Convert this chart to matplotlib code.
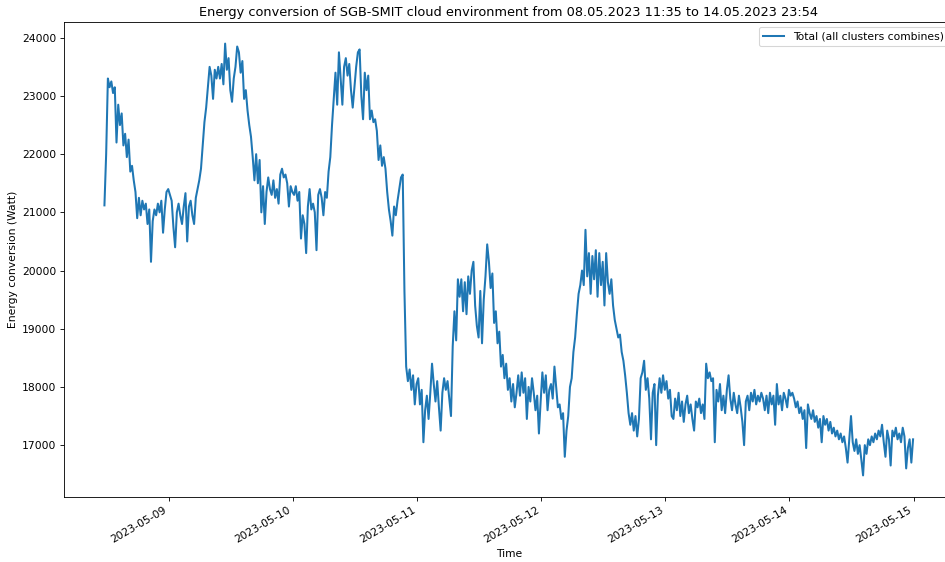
import numpy as np
import pandas as pd
import matplotlib
matplotlib.use("Agg")
from matplotlib import pyplot as plt

# total power draw (Watt), one reading every ~20 minutes
may08 = [21120, 22000, 23300, 23150, 23250, 23050, 23150, 22200, 22850, 22500,
         22700, 22150, 22350, 21950, 22250, 21700, 21800, 21550, 21350, 20900,
         21250, 20950, 21200, 21050, 21150, 20800, 21050, 20150, 20850, 21050,
         20950, 21150, 21000, 21200, 20650, 21050, 21350, 21400]
may09 = [21300, 21200, 20750, 20400, 21000, 21150, 20950, 20800, 21100, 21330,
         20500, 21100, 21200, 20950, 20800, 21250, 21400, 21550, 21750, 22150,
         22550, 22800, 23150, 23500, 23350, 22950, 23450, 23300, 23500, 23300,
         23550, 23200, 23900, 23450, 23650, 23100, 22900, 23300, 23500, 23850,
         23750, 23400, 23600, 22950, 23100, 22750, 22500, 22300, 21950, 21550,
         22000, 21500, 21900, 21000, 21450, 20800, 21350, 21600, 21400, 21300,
         21550, 21250, 21400, 21150, 21650, 21750, 21600, 21650, 21500, 21100,
         21450, 21350]
may10 = [21300, 21450, 21200, 21350, 20550, 20950, 20800, 20300, 21100, 21400,
         21050, 21150, 21000, 20350, 21300, 21400, 21250, 20950, 21350, 21250,
         21700, 21950, 22500, 22950, 23400, 22850, 23750, 23300, 22850, 23500,
         23650, 23350, 23550, 23100, 22800, 23150, 23500, 23750, 23800, 23000,
         22600, 23400, 23100, 23350, 22600, 22750, 22550, 22600, 22400, 21900,
         22150, 21800, 21950, 21750, 21350, 21050, 20850, 20600, 21100, 20950,
         21200, 21400, 21600, 21650, 19650, 18350, 18100, 18300, 17950, 18200,
         17700, 18050]
may11 = [18150, 17700, 17950, 17050, 17600, 17850, 17450, 17900, 18400, 18050,
         17750, 18100, 17650, 17250, 17900, 18150, 17950, 18100, 17800, 17500,
         18700, 19300, 18800, 19850, 19550, 19850, 19300, 19800, 19250, 19900,
         19600, 20000, 20150, 19400, 19050, 18850, 19650, 18750, 19500, 19900,
         20450, 20150, 19700, 19950, 19100, 19300, 18750, 18950, 18350, 18550,
         18150, 18400, 17950, 18150, 17750, 18050, 17650, 17900, 18200, 17850,
         18250, 17900, 18150, 17450, 18000, 17750, 18150, 17900, 17600, 17850,
         17200, 17750]
may12 = [18250, 17900, 18200, 17600, 17950, 18050, 17800, 18350, 18000, 17650,
         17700, 17450, 17550, 16800, 17250, 17500, 18000, 18150, 18600, 18850,
         19250, 19600, 19750, 20000, 19750, 20700, 19900, 20300, 19600, 20250,
         19850, 20350, 19550, 20300, 19750, 20150, 19400, 20300, 19800, 19600,
         19850, 19400, 19150, 19000, 18850, 18900, 18600, 18450, 18200, 17900,
         17550, 17350, 17550, 17250, 17500, 17150, 17450, 18150, 18250, 18450,
         17950, 18150, 17800, 17100, 17900, 18050, 17000, 17850, 18150, 17900,
         18200, 17950]
may13 = [18100, 17800, 17950, 17500, 17450, 17800, 17600, 17900, 17500, 17750,
         17400, 17700, 17850, 17550, 17700, 17450, 17250, 17750, 17650, 17800,
         17550, 17700, 17450, 18400, 18150, 18250, 18100, 18150, 17050, 17950,
         17750, 18050, 17600, 17850, 17550, 17950, 18200, 17800, 17600, 17900,
         17700, 17550, 17850, 17650, 17400, 17000, 17750, 17850, 17600, 17900,
         17750, 17950, 17700, 17850, 17750, 17900, 17800, 17600, 17850, 17550,
         17900, 17700, 17850, 17350, 18050, 17700, 17850, 17600, 17900, 17800,
         17650, 17950]
may14 = [17850, 17900, 17800, 17650, 17750, 17550, 17650, 17450, 17600, 16950,
         17700, 17550, 17450, 17600, 17400, 17500, 17300, 17450, 17050, 17500,
         17350, 17450, 17250, 17400, 17200, 17300, 17150, 17250, 17100, 17200,
         17050, 17150, 16950, 16700, 17100, 17500, 17050, 16900, 17100, 16850,
         17000, 16750, 16480, 17000, 16850, 17100, 17000, 17150, 17050, 17200,
         17100, 17250, 17150, 17350, 17050, 16800, 17250, 17100, 16650, 17250,
         17150, 17300, 17100, 17200, 17050, 17300, 17150, 16600, 16950, 17100,
         16700, 17100]

start = "2023-05-08 11:35"
end = "2023-05-14 23:54"

watts = may08 + may09 + may10 + may11 + may12 + may13 + may14
df = pd.DataFrame({"total": watts},
                  index=pd.date_range(start, end, periods=len(watts)))

# big canvas at low dpi -> 945x562 px
fig = plt.figure(figsize=(945 / 77, 562 / 77), dpi=77)
ax = fig.add_axes([64 / 945, 65 / 562, 889.5 / 945, 475 / 562])

ax.plot(df.index, df["total"], color="#1f77b4", linewidth=1.9,
        label="Total (all clusters combines)")

ax.set_title("Energy conversion of SGB-SMIT cloud environment from "
             "08.05.2023 11:35 to 14.05.2023 23:54")
ax.set_xlabel("Time")
ax.set_ylabel("Energy conversion (Watt)")
ax.legend(loc="upper right")

plt.setp(ax.get_xticklabels(), rotation=30, ha="right")

fig.savefig("out.png", dpi=77)
